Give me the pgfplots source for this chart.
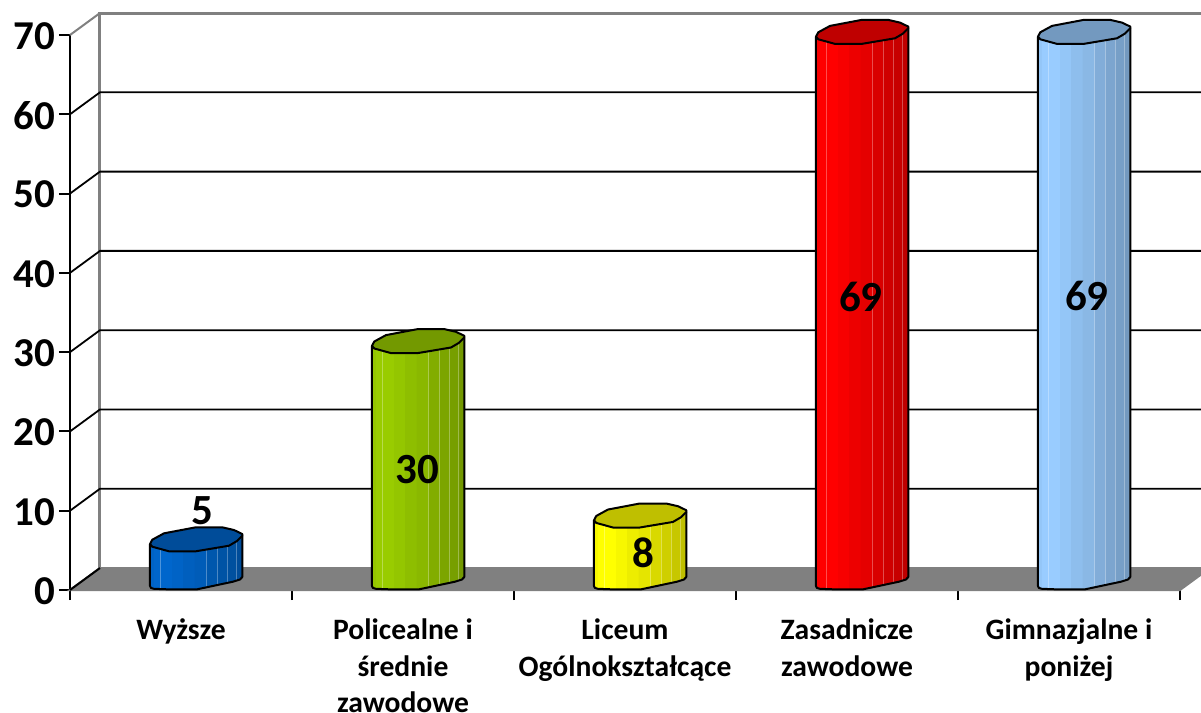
\documentclass[border=0pt]{standalone}
\usepackage{fontspec}
\setmainfont{Carlito}
\usepackage{pgfplots}
\pgfplotsset{compat=1.18}
% 1 px of the reference = 0.5pt; x unit 222 px, y unit 7.93 px
\definecolor{barA}{RGB}{0,102,204}
\definecolor{barB}{RGB}{153,204,0}
\definecolor{barC}{RGB}{255,255,0}
\definecolor{barD}{RGB}{255,0,0}
\definecolor{barE}{RGB}{153,204,255}
\definecolor{floorgray}{RGB}{128,128,128}

% #1 left x, #2 y of ref point, list of px offsets -> \ptsg
\newcommand{\buildpts}[3]{%
  \gdef\ptsg{}%
  \foreach \dx/\dy in {#3}{%
    \pgfmathsetmacro{\px}{#1+\dx/222}\pgfmathsetmacro{\py}{#2+\dy/7.93}%
    \xdef\ptsg{\ptsg(\px,\py)}}%
}
% #1 category index, #2 value, #3 colour
\newcommand{\cyl}[3]{%
  \pgfmathsetmacro{\lx}{#1+80/222}%
  \pgfmathsetmacro{\ytop}{#2+0.8}%
  % strips: x from, top offset, x to, top offset, bottom heights, shade
  \foreach \xa/\da/\xb/\db/\ba/\bb/\pc in {0/0/4/2.9/4/1.7/97, 4/2.9/11/4.8/1.7/1.2/100, 11/4.8/22/7.3/1.2/1/100, 22/7.3/33/7.3/1/1/97,
      33/7.3/45/7.3/1/1/93, 45/7.3/57/5.4/1/3.1/90, 57/5.4/68/3.7/3.1/5.3/85, 68/3.7/78/2.1/5.3/7.3/81, 78/2.1/87/-3/7.3/10/78, 87/-3/92.3/-8.3/10/13/75}{%
    \pgfmathsetmacro{\xl}{\lx+\xa/222}\pgfmathsetmacro{\xh}{\lx+\xb/222}%
    \pgfmathsetmacro{\yla}{\ba/7.93}\pgfmathsetmacro{\yha}{\bb/7.93}%
    \pgfmathsetmacro{\ylb}{\ytop-\da/7.93}\pgfmathsetmacro{\yhb}{\ytop-\db/7.93}%
    \edef\temp{\noexpand\addplot[fill=#3!\pc!black, draw=#3!\pc!black, line width=0.1pt, forget plot]
      coordinates {(\xl,\yla)(\xh,\yha)(\xh,\yhb)(\xl,\ylb)} --cycle;}\temp
  }%
  \foreach \xa/\da/\ba in {11/4.8/1.2, 57/5.4/3.1, 68/3.7/5.3, 78/2.1/7.3, 87/-3/10}{%
    \pgfmathsetmacro{\xl}{\lx+\xa/222}\pgfmathsetmacro{\yla}{\ba/7.93}\pgfmathsetmacro{\ylb}{\ytop-\da/7.93}%
    \edef\temp{\noexpand\addplot[white, opacity=0.3, line width=0.5pt, forget plot]
      coordinates {(\xl,\yla)(\xl,\ylb)};}\temp
  }%
  % outline of the body
  \buildpts{\lx}{0}{0/4, 1/2, 4/1.2, 20/0.6, 46.7/0.6, 83/8.3, 90/10.5, 92.3/13}%
  \pgfmathsetmacro{\xh}{\lx+92.3/222}\pgfmathsetmacro{\yhb}{\ytop+8.3/7.93}%
  \edef\temp{\noexpand\addplot[black, line width=1pt, line join=round, forget plot]
    coordinates {(\lx,\ytop)\ptsg(\xh,\yhb)};}\temp
  % top face
  \buildpts{\lx}{\ytop}{0/0, 2.3/4.3, 14/10.7, 45.7/16.7, 72.3/16.7, 84/14, 92.3/10, 92.3/8.3, 87/3, 79/-1.7, 45.7/-7.3, 19/-7.3, 2.3/-2.7}%
  \edef\temp{\noexpand\addplot[fill=#3!75!black, draw=black, line width=1pt, line join=round, forget plot]
    coordinates {\ptsg} --cycle;}\temp
}

\begin{document}
\begin{tikzpicture}
\begin{axis}[
    at={(0,0)}, anchor=south west,
    scale only axis,
    width=555pt, height=277.5pt,
    clip=false,
    xmin=0, xmax=5, ymin=0, ymax=70,
    axis lines=left,
    axis line style={-, black, line width=1pt},
    ytick={0,10,...,70},
    xtick={0.5,1.5,2.5,3.5,4.5},
    minor xtick={0,1,2,3,4,5},
    xticklabels={Wyższe, {Policealne i\\średnie\\zawodowe}, {Liceum\\Ogólnokształcące}, {Zasadnicze\\zawodowe}, {Gimnazjalne i\\poniżej}},
    major tick style={black, line width=1pt},
    minor tick style={black, line width=1pt},
    tick align=outside,
    ytick style={/pgfplots/major tick length=5.5pt},
    xtick style={/pgfplots/major tick length=0pt},
    minor tick length=5pt,
    /pgf/number format/assume math mode=true,
    yticklabel style={font=\bfseries\fontsize{20.5}{22}\selectfont, xshift=0.5pt, yshift=-0.5pt},
    xticklabel style={font=\bfseries\fontsize{14.8}{18.4}\selectfont, align=center, anchor=north, yshift=-6.5pt},
]
% floor and walls
\addplot[fill=floorgray, draw=floorgray, line width=1pt, forget plot] coordinates {(0,0)(0.135,2.77)(5.135,2.77)(5,0)} --cycle;
\addplot[floorgray, line width=1.5pt, forget plot] coordinates {(0.135,2.77)(0.135,72.77)(5.135,72.77)};
\addplot[black, line width=1pt, forget plot] coordinates {(0,0)(0.135,2.77)};
\addplot[floorgray, line width=1pt, forget plot] coordinates {(0,70)(0.135,72.77)};
\addplot[black, line width=0.9pt, forget plot] coordinates {(0,10)(0.135,12.77)(5.135,12.77)};
\addplot[black, line width=0.9pt, forget plot] coordinates {(0,20)(0.135,22.77)(5.135,22.77)};
\addplot[black, line width=0.9pt, forget plot] coordinates {(0,30)(0.135,32.77)(5.135,32.77)};
\addplot[black, line width=0.9pt, forget plot] coordinates {(0,40)(0.135,42.77)(5.135,42.77)};
\addplot[black, line width=0.9pt, forget plot] coordinates {(0,50)(0.135,52.77)(5.135,52.77)};
\addplot[black, line width=0.9pt, forget plot] coordinates {(0,60)(0.135,62.77)(5.135,62.77)};
\cyl{0}{5}{barA}
\cyl{1}{30}{barB}
\cyl{2}{8}{barC}
\cyl{3}{69}{barD}
\cyl{4}{69}{barE}
% value labels
\addplot[draw=none, mark=none, point meta=explicit symbolic,
    nodes near coords={\pgfplotspointmeta},
    every node near coord/.style={anchor=center, font=\bfseries\fontsize{21.5}{23}\selectfont, black}]
  coordinates {(0.595,10)[5] (1.566,15.2)[30] (2.581,4.65)[8] (3.563,36.9)[69] (4.581,37.1)[69]};
\end{axis}
\pgfresetboundingbox
\path (-35pt,-61.5pt) rectangle (565.5pt,295pt);
\end{tikzpicture}
\end{document}
